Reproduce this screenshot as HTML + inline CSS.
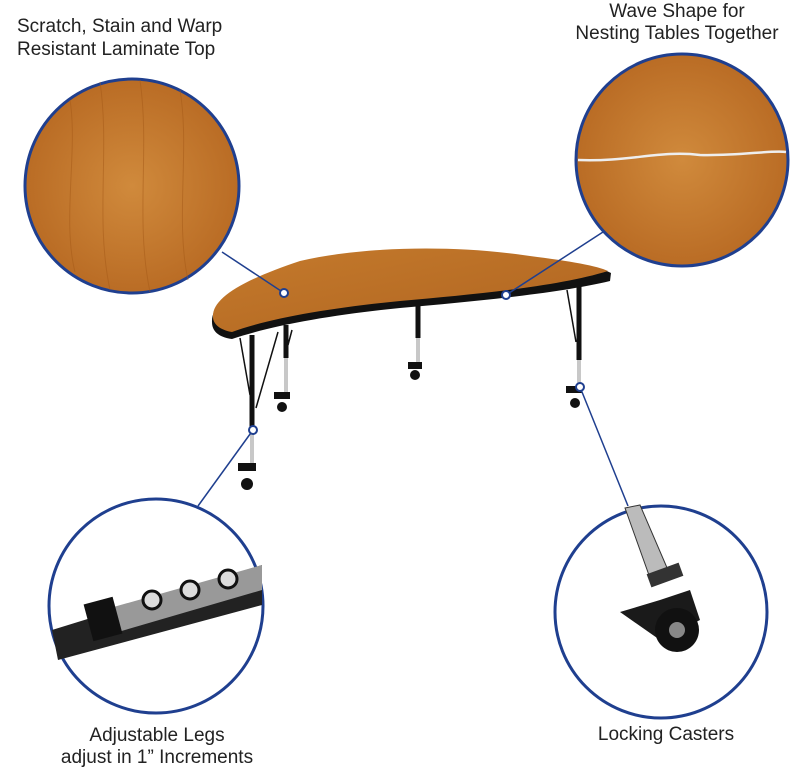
<!DOCTYPE html>
<html><head><meta charset="utf-8"><style>
body{margin:0;background:#fff;}
svg{display:block;}
text{font-family:"Liberation Sans",sans-serif;font-size:19px;fill:#222;}
</style></head><body>
<svg width="801" height="768" viewBox="0 0 801 768" xmlns="http://www.w3.org/2000/svg">
<defs>
<radialGradient id="wood2" cx="0.5" cy="0.5" r="0.6">
<stop offset="0" stop-color="#d08a3c"/><stop offset="1" stop-color="#b56620"/>
</radialGradient>
<linearGradient id="wood" x1="0" y1="0" x2="1" y2="1">
<stop offset="0" stop-color="#c47a2c"/><stop offset="1" stop-color="#b06420"/>
</linearGradient>
</defs>

<text x="17" y="32">Scratch, Stain and Warp</text>
<text x="17" y="55">Resistant Laminate Top</text>
<text x="677" y="17" text-anchor="middle">Wave Shape for</text>
<text x="677" y="39" text-anchor="middle">Nesting Tables Together</text>
<text x="157" y="741" text-anchor="middle">Adjustable Legs</text>
<text x="157" y="763" text-anchor="middle">adjust in 1” Increments</text>
<text x="666" y="740" text-anchor="middle">Locking Casters</text>

<!-- legs -->
<g stroke="#111" stroke-width="5">
<line x1="252" y1="335" x2="252" y2="428"/>
<line x1="286" y1="325" x2="286" y2="358"/>
<line x1="418" y1="305" x2="418" y2="338"/>
<line x1="579" y1="285" x2="579" y2="360"/>
</g>
<g stroke="#111" stroke-width="1.5">
<line x1="240" y1="338" x2="250" y2="395"/>
<line x1="278" y1="332" x2="256" y2="408"/>
<line x1="292" y1="330" x2="288" y2="345"/>
<line x1="567" y1="290" x2="576" y2="342"/>
</g>
<g stroke="#c8c8c8" stroke-width="4">
<line x1="252" y1="432" x2="252" y2="470"/>
<line x1="286" y1="358" x2="286" y2="395"/>
<line x1="418" y1="338" x2="418" y2="368"/>
<line x1="579" y1="360" x2="579" y2="388"/>
</g>
<g fill="#111">
<circle cx="247" cy="484" r="6"/><rect x="238" y="463" width="18" height="8"/>
<circle cx="282" cy="407" r="5"/><rect x="274" y="392" width="16" height="7"/>
<circle cx="415" cy="375" r="5"/><rect x="408" y="362" width="14" height="7"/>
<circle cx="575" cy="403" r="5"/><rect x="566" y="386" width="16" height="7"/>
</g>

<!-- table top -->
<path d="M212 322 C 211 302, 240 283, 300 263 C 360 248, 450 245, 530 257 C 570 262, 600 267, 611 273 L 610 281 C 560 293, 480 301, 400 308 C 330 315, 270 326, 232 339 C 218 337, 212 331, 212 322 Z" fill="#111"/>
<path d="M213 317 C 212 299, 240 281, 300 261 C 360 247, 450 244, 530 256 C 570 261, 598 266, 608 271 C 560 286, 480 294, 400 301 C 330 308, 270 318, 232 332 C 220 330, 213 324, 213 317 Z" fill="url(#wood)"/>

<!-- connectors -->
<g stroke="#1f3f8f" stroke-width="1.5">
<line x1="284" y1="293" x2="222" y2="252"/>
<line x1="506" y1="295" x2="603" y2="232"/>
<line x1="253" y1="430" x2="198" y2="506"/>
<line x1="580" y1="387" x2="628" y2="506"/>
</g>
<g fill="#fff" stroke="#1f3f8f" stroke-width="2">
<circle cx="284" cy="293" r="4"/><circle cx="506" cy="295" r="4"/>
<circle cx="253" cy="430" r="4"/><circle cx="580" cy="387" r="4"/>
</g>

<!-- circle 1 wood -->
<circle cx="132" cy="186" r="107" fill="url(#wood2)" stroke="#1f3f8f" stroke-width="3"/>
<g stroke="#a55a18" stroke-width="1" opacity="0.5" fill="none">
<path d="M70 100 C 78 150, 62 220, 75 272"/><path d="M100 82 C 110 150, 95 220, 110 290"/>
<path d="M140 80 C 150 150, 135 220, 150 292"/><path d="M180 90 C 190 150, 175 220, 188 280"/>
</g>
<!-- circle 2 wood with seam -->
<circle cx="682" cy="160" r="106" fill="url(#wood2)" stroke="#1f3f8f" stroke-width="3"/>
<path d="M578 160 C 630 162, 660 150, 700 155 C 740 156, 770 150, 786 152" stroke="#eee" stroke-width="2.5" fill="none"/>
<!-- circle 3 legs -->
<circle cx="156" cy="606" r="107" fill="#fff" stroke="#1f3f8f" stroke-width="3"/>
<path d="M52 630 L 262 565 L 262 605 L 58 660 Z" fill="#222"/>
<path d="M110 608 L 262 565 L 262 590 L 118 632 Z" fill="#999"/>
<g fill="#ddd" stroke="#111" stroke-width="3">
<circle cx="152" cy="600" r="9"/><circle cx="190" cy="590" r="9"/><circle cx="228" cy="579" r="9"/>
</g>
<rect x="88" y="600" width="30" height="38" fill="#111" transform="rotate(-15 103 619)"/>
<!-- circle 4 caster -->
<circle cx="661" cy="612" r="106" fill="#fff" stroke="#1f3f8f" stroke-width="3"/>
<path d="M625 508 L 640 505 L 668 570 L 650 578 Z" fill="#bbb" stroke="#333" stroke-width="1"/>
<rect x="648" y="568" width="34" height="14" fill="#333" transform="rotate(-20 665 575)"/>
<path d="M620 612 L 660 600 L 690 590 L 700 620 L 660 640 Z" fill="#1a1a1a"/>
<circle cx="677" cy="630" r="22" fill="#111"/>
<circle cx="677" cy="630" r="8" fill="#888"/>
</svg>
</body></html>
